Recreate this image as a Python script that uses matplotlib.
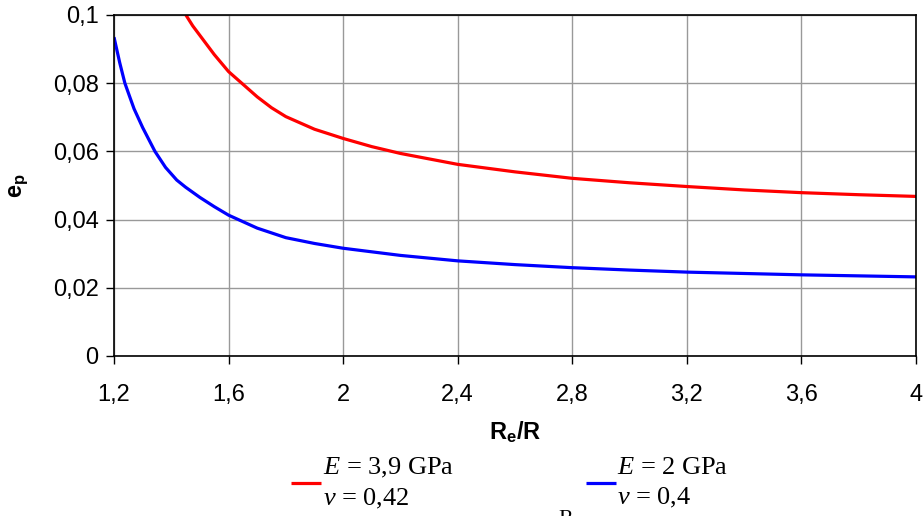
import matplotlib
matplotlib.use("Agg")
import matplotlib.pyplot as plt
from matplotlib.ticker import FixedLocator

plt.rcParams['font.family'] = ['Liberation Sans', 'DejaVu Sans']
plt.rcParams['mathtext.fontset'] = 'custom'
plt.rcParams['mathtext.rm'] = 'Liberation Serif'
plt.rcParams['mathtext.it'] = 'Liberation Serif:italic'
plt.rcParams['mathtext.bf'] = 'Liberation Sans:bold'

# Data
x_red = [1.451, 1.475, 1.5, 1.55, 1.6, 1.646, 1.7, 1.75, 1.8, 1.9, 2.0, 2.1, 2.2, 2.4, 2.6, 2.8, 3.0, 3.2,
         3.4, 3.6, 3.8, 4.0]
y_red = [0.100, 0.0968, 0.0940, 0.0884, 0.0834, 0.0800, 0.0760, 0.0728, 0.0702, 0.0665, 0.0638, 0.0614,
         0.0594, 0.0562, 0.0540, 0.0521, 0.0508, 0.0497, 0.0487, 0.0479, 0.0473, 0.0468]
x_blue = [1.2, 1.22, 1.238, 1.255, 1.27, 1.3, 1.343, 1.38, 1.419, 1.45, 1.5, 1.55, 1.6, 1.7, 1.8, 1.9, 2.0,
          2.2, 2.4, 2.6, 2.8, 3.0, 3.2, 3.4, 3.6, 3.8, 4.0]
y_blue = [0.0935, 0.0860, 0.0800, 0.0760, 0.0725, 0.0670, 0.0600, 0.0553, 0.0516, 0.0495, 0.0465, 0.0438,
          0.0413, 0.0375, 0.0347, 0.0330, 0.0316, 0.0295, 0.0279, 0.0268, 0.0259, 0.0252, 0.0246, 0.0242,
          0.0238, 0.0235, 0.0232]

x_ticks = [1.2, 1.6, 2.0, 2.4, 2.8, 3.2, 3.6, 4.0]
x_ticklabels = ["1,2", "1,6", "2", "2,4", "2,8", "3,2", "3,6", "4"]
y_ticks = [0, 0.02, 0.04, 0.06, 0.08, 0.1]
y_ticklabels = ["0", "0,02", "0,04", "0,06", "0,08", "0,1"]

label_red = "$E$ = 3,9 GPa\n$\\nu$ = 0,42"
label_blue = "$E$ = 2 GPa\n$\\nu$ = 0,4"

fig = plt.figure(figsize=(9.24, 5.16), dpi=100)
ax = fig.add_axes([114/924, 1-356/516, (916-114)/924, (356-15)/516])

ax.plot(x_red, y_red, color='#ff0000', lw=2.3, label=label_red, solid_capstyle='butt')
ax.plot(x_blue, y_blue, color='#0000ff', lw=2.3, label=label_blue, solid_capstyle='butt')

ax.set_xlim(1.2, 4.0)
ax.set_ylim(0, 0.1)
ax.xaxis.set_major_locator(FixedLocator(x_ticks))
ax.set_xticklabels(x_ticklabels)
ax.yaxis.set_major_locator(FixedLocator(y_ticks))
ax.set_yticklabels(y_ticklabels)
ax.grid(True, color='#999999', lw=1.0)
ax.set_axisbelow(True)
for s in ax.spines.values():
    s.set_color('black')
    s.set_linewidth(1.2)
ax.tick_params(axis='both', direction='out', length=6, width=1, labelsize=17, colors='black')
ax.tick_params(axis='x', pad=14)
ax.tick_params(axis='y', pad=5)

ax.set_xlabel(r'R$_\mathbf{e}$/R', fontsize=17, fontweight='bold')
ax.xaxis.set_label_coords(0.5, -(432-356)/341)
ax.xaxis.label.set_va('center')
ax.set_ylabel(r'$\mathbf{e}_\mathbf{p}$', fontsize=17)
ax.yaxis.set_label_coords((19-114)/802, 0.5)
ax.yaxis.label.set_va('center')

leg = ax.legend(loc='upper left', bbox_to_anchor=(291/924, 1-456/516), bbox_transform=fig.transFigure,
                ncol=2, frameon=False, handlelength=1.15, handletextpad=0.05, columnspacing=5.0,
                prop={'family': 'Liberation Serif', 'size': 19}, borderaxespad=0, borderpad=0,
                labelspacing=0.2)
for t in leg.get_texts():
    t.set_linespacing(1.35)

fig.text(558/924, 1-510/516, "R", family='Liberation Serif', fontsize=16, va='top', ha='left')

fig.savefig("out.png", dpi=100)
